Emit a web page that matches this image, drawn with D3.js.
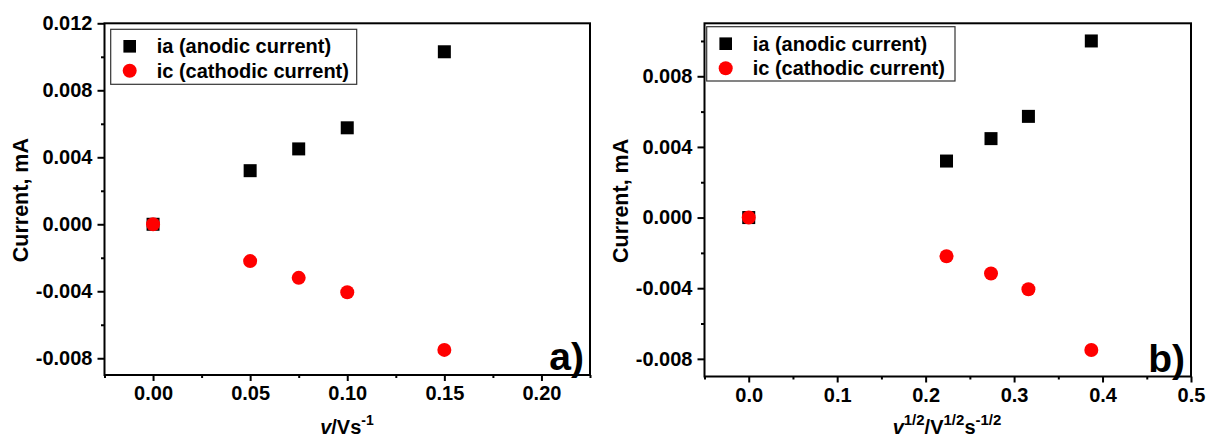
<!DOCTYPE html>
<html>
<head>
<meta charset="utf-8">
<script src="https://cdn.jsdelivr.net/npm/d3@7"></script>
<style>
  html, body { margin: 0; padding: 0; background: #fff; }
  svg { display: block; font-family: "Liberation Sans", Arial, sans-serif; font-weight: bold; }
</style>
</head>
<body>
<svg id="chart" width="1206" height="437"></svg>
<script>
// ---- Data ----
// Panel a): current vs scan rate v
const scanRateA = [0, 0.05, 0.075, 0.10, 0.15];
const anodicA = [0, 0.0032, 0.0045, 0.00576, 0.0103];
const cathodicA = [0, -0.0022, -0.0032, -0.00406, -0.0075];
// Panel b): current vs square root of scan rate
const sqrtRateB = [0, 0.2236, 0.2739, 0.3162, 0.3873];
const anodicB = [0, 0.0032, 0.00447, 0.00573, 0.0100];
const cathodicB = [0, -0.00219, -0.00317, -0.00406, -0.0075];
// Tick values
const xTicksA = [0, 0.05, 0.10, 0.15, 0.20];
const xMinorA = [-0.025, 0.025, 0.075, 0.125, 0.175, 0.225];
const yTicksA = [-0.008, -0.004, 0, 0.004, 0.008, 0.012];
const yMinorA = [-0.006, -0.002, 0.002, 0.006, 0.010];
const xTicksB = [0, 0.1, 0.2, 0.3, 0.4, 0.5];
const xMinorB = [-0.05, 0.05, 0.15, 0.25, 0.35, 0.45];
const yTicksB = [-0.008, -0.004, 0, 0.004, 0.008];
const yMinorB = [-0.006, -0.002, 0.002, 0.006, 0.010];
const seriesNames = ["ia (anodic current)", "ic (cathodic current)"];

const loc = d3.formatLocale({ decimal: ".", thousands: ",", grouping: [3], currency: ["", ""], minus: "-" });
const FONT = "'Liberation Sans', Arial, sans-serif";
const svg = d3.select("#chart");

function drawPanel(cfg) {
  const g = svg.append("g");
  const x = d3.scaleLinear().domain(cfg.xDomain).range([cfg.left, cfg.right]);
  const y = d3.scaleLinear().domain(cfg.yDomain).range([cfg.bottom, cfg.top]);

  // frame
  g.append("rect")
    .attr("x", cfg.left).attr("y", cfg.top)
    .attr("width", cfg.right - cfg.left).attr("height", cfg.bottom - cfg.top)
    .attr("fill", "none").attr("stroke", "#000").attr("stroke-width", 2);

  // x axis
  const xAxis = d3.axisBottom(x).tickValues(cfg.xTicks).tickFormat(cfg.xFormat)
    .tickSizeInner(6).tickSizeOuter(0).tickPadding(5);
  const xa = g.append("g").attr("transform", `translate(0,${cfg.bottom})`).call(xAxis);
  xa.select(".domain").remove();
  xa.selectAll("line").attr("stroke", "#000").attr("stroke-width", 2);
  xa.selectAll("text").attr("font-size", 20).attr("font-weight", "bold")
    .attr("font-family", FONT).attr("fill", "#000");
  const xm = d3.axisBottom(x).tickValues(cfg.xMinor).tickFormat("").tickSizeInner(3).tickSizeOuter(0);
  const xmg = g.append("g").attr("transform", `translate(0,${cfg.bottom})`).call(xm);
  xmg.select(".domain").remove();
  xmg.selectAll("line").attr("stroke", "#000").attr("stroke-width", 2);

  // y axis
  const yAxis = d3.axisLeft(y).tickValues(cfg.yTicks).tickFormat(loc.format(".3f"))
    .tickSizeInner(7).tickSizeOuter(0).tickPadding(5);
  const ya = g.append("g").attr("transform", `translate(${cfg.left},0)`).call(yAxis);
  ya.select(".domain").remove();
  ya.selectAll("line").attr("stroke", "#000").attr("stroke-width", 2);
  ya.selectAll("text").attr("font-size", 20).attr("font-weight", "bold")
    .attr("font-family", FONT).attr("fill", "#000");
  const ym = d3.axisLeft(y).tickValues(cfg.yMinor).tickFormat("").tickSizeInner(3.5).tickSizeOuter(0);
  const ymg = g.append("g").attr("transform", `translate(${cfg.left},0)`).call(ym);
  ymg.select(".domain").remove();
  ymg.selectAll("line").attr("stroke", "#000").attr("stroke-width", 2);

  // y title
  g.append("text")
    .attr("transform", `translate(${cfg.yTitleX},${(cfg.top + cfg.bottom) / 2 + 1}) rotate(-90)`)
    .attr("text-anchor", "middle").attr("font-size", 21.5).attr("fill", "#000")
    .text("Current, mA");

  // x title
  const xt = g.append("text")
    .attr("x", cfg.xTitleX).attr("y", 434)
    .attr("text-anchor", "middle").attr("font-size", 20).attr("fill", "#000");
  cfg.xTitle(xt);

  // data
  const sq = 13;
  const pointsA = cfg.xs.map((d, i) => ({ x: d, y: cfg.ia[i] }));
  const pointsC = cfg.xs.map((d, i) => ({ x: d, y: cfg.ic[i] }));
  g.selectAll(".sq").data(pointsA).enter().append("rect")
    .attr("x", d => x(d.x) - sq / 2).attr("y", d => y(d.y) - sq / 2)
    .attr("width", sq).attr("height", sq).attr("fill", "#000");
  g.selectAll(".ci").data(pointsC).enter().append("circle")
    .attr("cx", d => x(d.x)).attr("cy", d => y(d.y)).attr("r", 7).attr("fill", "#ff0000");

  // legend
  const L = cfg.legend;
  g.append("rect").attr("x", L.x).attr("y", L.y).attr("width", L.w).attr("height", L.h)
    .attr("fill", "#fff").attr("stroke", "#333").attr("stroke-width", 1.2);
  g.append("rect").attr("x", L.x + 19 - 6.3).attr("y", L.y + 17 - 6.3)
    .attr("width", 12.6).attr("height", 12.6).attr("fill", "#000");
  g.append("circle").attr("cx", L.x + 19).attr("cy", L.y + 41.5).attr("r", 7).attr("fill", "#ff0000");
  g.append("text").attr("x", L.x + 46).attr("y", L.y + 17 + 7).attr("font-size", 20).attr("fill", "#000")
    .text(seriesNames[0]);
  g.append("text").attr("x", L.x + 46).attr("y", L.y + 41.5 + 7).attr("font-size", 20).attr("fill", "#000")
    .text(seriesNames[1]);

  // panel label
  g.append("text").attr("x", cfg.right - 6).attr("y", cfg.bottom - 5)
    .attr("text-anchor", "end").attr("font-size", 39).attr("fill", "#000")
    .text(cfg.label);
}

drawPanel({
  left: 104.5, right: 590, top: 23.3, bottom: 375,
  xDomain: [-0.025, 0.225], yDomain: [-0.009, 0.012],
  xTicks: xTicksA, xMinor: xMinorA, yTicks: yTicksA, yMinor: yMinorA,
  xFormat: d3.format(".2f"),
  xs: scanRateA, ia: anodicA, ic: cathodicA,
  yTitleX: 28, xTitleX: 347,
  xTitle: t => {
    t.append("tspan").attr("font-style", "italic").text("v");
    t.append("tspan").text("/Vs");
    t.append("tspan").attr("font-size", 14).attr("dy", -9).text("-1");
  },
  legend: { x: 110.7, y: 29.3, w: 246, h: 55 },
  label: "a)"
});

drawPanel({
  left: 704.5, right: 1191, top: 23.3, bottom: 376.5,
  xDomain: [-0.05, 0.5], yDomain: [-0.009, 0.011],
  xTicks: xTicksB, xMinor: xMinorB, yTicks: yTicksB, yMinor: yMinorB,
  xFormat: d3.format(".1f"),
  xs: sqrtRateB, ia: anodicB, ic: cathodicB,
  yTitleX: 628, xTitleX: 947,
  xTitle: t => {
    t.append("tspan").attr("font-style", "italic").text("v");
    t.append("tspan").attr("font-size", 15).attr("dy", -9).text("1/2");
    t.append("tspan").attr("dy", 9).text("/V");
    t.append("tspan").attr("font-size", 15).attr("dy", -9).text("1/2");
    t.append("tspan").attr("dy", 9).text("s");
    t.append("tspan").attr("font-size", 15).attr("dy", -9).text("-1/2");
  },
  legend: { x: 706.7, y: 26.7, w: 248.3, h: 54.3 },
  label: "b)"
});
</script>
</body>
</html>
